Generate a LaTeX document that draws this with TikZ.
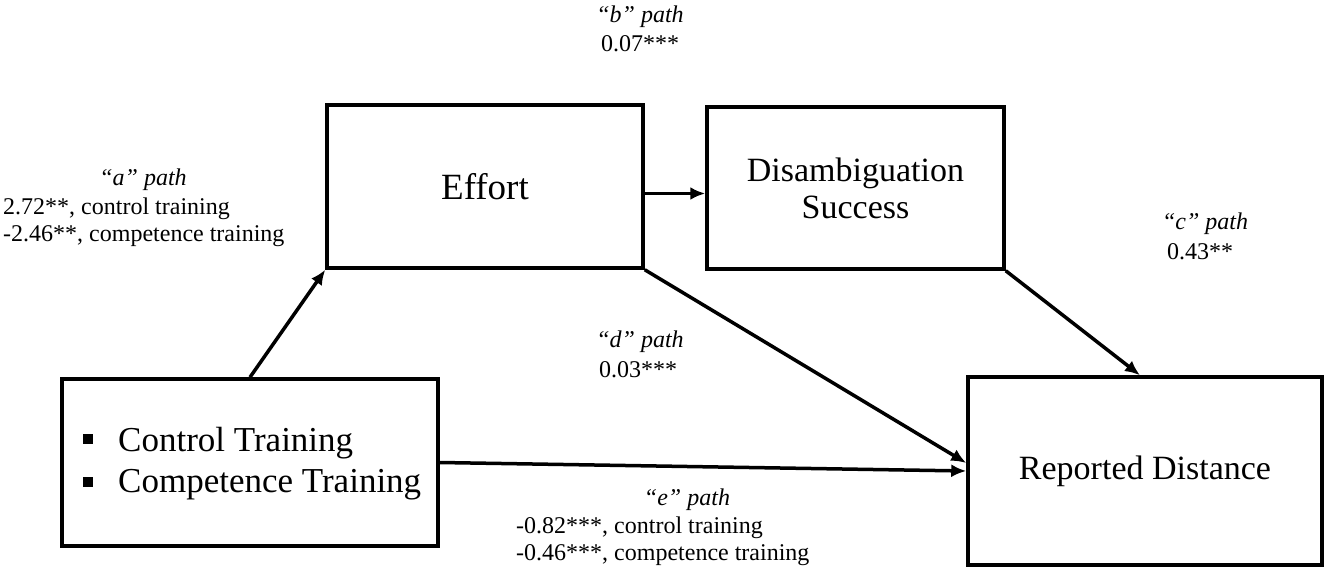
\documentclass[tikz,border=0pt]{standalone}
\usepackage{fontspec}
\setmainfont{Liberation Serif}
\usetikzlibrary{arrows.meta,calc}
\begin{document}
\begin{tikzpicture}[x=1pt,y=-1pt,
  box/.style={draw,line width=3.5pt,inner sep=0pt,align=center,font=\fontsize{34}{40}\selectfont},
  arr/.style={line width=3.5pt,-{Latex[length=15pt,width=13pt]}},
  lab/.style={inner sep=0pt,font=\fontsize{24}{27}\selectfont},
  hdr/.style={inner sep=0pt,font=\fontsize{24}{27}\selectfont\itshape}]
\useasboundingbox (0,0) rectangle (1326,570);
\node[box,minimum width=316pt,minimum height=163pt,font=\fontsize{37}{40}\selectfont] (effort) at (485,186.5) {Effort};
\node[box,minimum width=297pt,minimum height=162pt] (dis) at (855.5,188) {Disambiguation\\[-3pt]Success};
\node[box,minimum width=376pt,minimum height=167pt] (left) at (250,462.5) {};
\node[box,minimum width=354pt,minimum height=188pt] (rep) at (1145,471) {Reported Distance};
% bullets
\node[inner sep=0pt,anchor=west,font=\fontsize{35}{40}\selectfont] (l1) at (118,443) {Control Training};
\node[inner sep=0pt,anchor=west,font=\fontsize{35}{40}\selectfont] (l2) at (118,485) {Competence Training};
\fill (83,434) rectangle (93,444);
\fill (83,477) rectangle (93,487);
% arrows
\draw[arr] (left.north) -- (effort.south west);
\draw[arr] ([yshift=-7pt]effort.east) -- ([yshift=-7pt]effort.east -| dis.west);
\draw[arr] (dis.south east) -- ([xshift=-5pt]rep.north);
\draw[arr] (effort.south east) -- ([yshift=8pt]rep.west);
\draw[arr] (left.east) -- (rep.west);
% labels
\node[hdr] (ah) at (143,180) {“a” path};
\node[lab,anchor=west,align=left] (al) at (3,222) {2.72**, control training\\-2.46**, competence training};
\node[hdr] (bh) at (640,17) {“b” path};
\node[lab] (bl) at (640,44) {0.07***};
\node[hdr] (ch) at (1205,224) {“c” path};
\node[lab] (cl) at (1200,252) {0.43**};
\node[hdr] (dh) at (640,342) {“d” path};
\node[lab] (dl) at (638,370) {0.03***};
\node[hdr] (eh) at (687,500) {“e” path};
\node[lab,anchor=west,align=left] (el) at (516,541) {-0.82***, control training\\-0.46***, competence training};
\end{tikzpicture}
\end{document}
